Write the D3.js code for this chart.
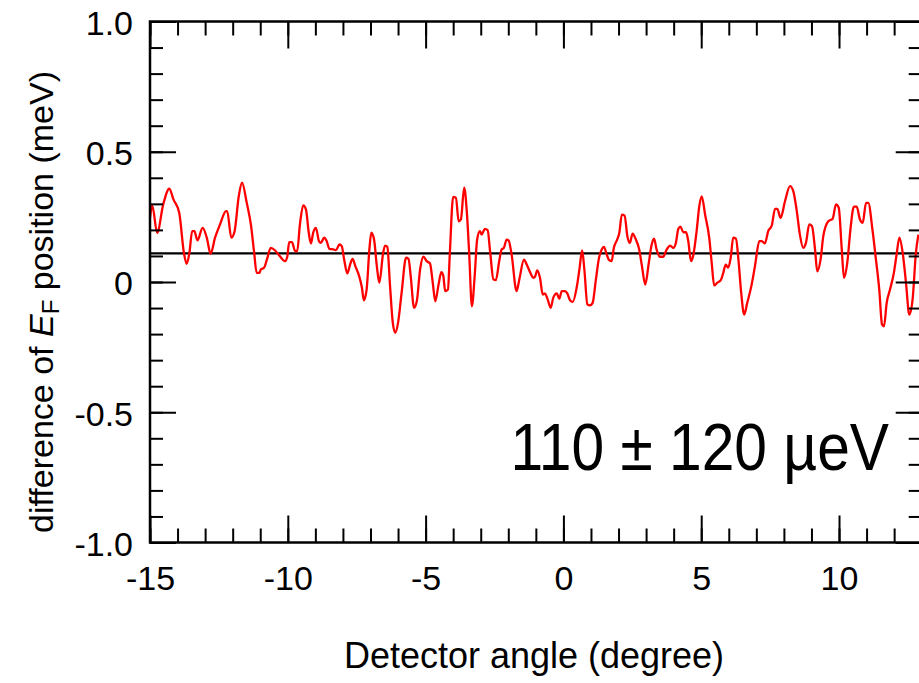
<!DOCTYPE html>
<html>
<head>
<meta charset="utf-8">
<script src="https://cdn.jsdelivr.net/npm/d3@7"></script>
<style>
  body { margin: 0; background: #fff; }
  svg { display: block; font-family: "Liberation Sans", Arial, sans-serif; }
  .axis path { display: none; }
  .axis line { stroke: #000; stroke-width: 2px; }
  .axis text { fill: #000; font-size: 34px; font-family: "Liberation Sans", Arial, sans-serif; }
</style>
</head>
<body>
<div id="chart"></div>
<script>
// detector angle (degree)
const angle = [
  -15.00,-14.92,-14.74,-14.52,-14.30,-14.15,-13.94,-13.77,-13.67,-13.57,
  -13.47,-13.39,-13.28,-13.09,-12.94,-12.80,-12.64,-12.46,-12.24,-12.20,
  -12.05,-11.93,-11.78,-11.66,-11.49,-11.34,-11.22,-11.13,-11.03,-10.98,
  -10.86,-10.74,-10.62,-10.46,-10.31,-10.10,-10.02,-9.95,-9.85,-9.73,
  -9.66,-9.56,-9.44,-9.34,-9.24,-9.16,-9.08,-8.98,-8.87,-8.80,
  -8.68,-8.59,-8.49,-8.35,-8.25,-8.13,-8.04,-7.96,-7.84,-7.74,
  -7.65,-7.55,-7.41,-7.31,-7.24,-7.14,-7.04,-6.97,-6.87,-6.77,
  -6.68,-6.54,-6.47,-6.39,-6.29,-6.19,-6.10,-6.00,-5.87,-5.71,
  -5.62,-5.54,-5.42,-5.32,-5.20,-5.08,-4.96,-4.84,-4.74,-4.65,
  -4.53,-4.43,-4.36,-4.29,-4.19,-4.12,-4.00,-3.90,-3.80,-3.72,
  -3.60,-3.51,-3.42,-3.32,-3.22,-3.13,-3.03,-2.97,-2.85,-2.75,
  -2.66,-2.54,-2.45,-2.33,-2.24,-2.16,-2.06,-1.99,-1.88,-1.70,
  -1.60,-1.43,-1.33,-1.19,-1.09,-1.03,-0.95,-0.85,-0.75,-0.67,
  -0.59,-0.46,-0.37,-0.24,-0.15,-0.06,0.06,0.14,0.24,0.34,
  0.48,0.58,0.68,0.76,0.87,0.96,1.06,1.18,1.28,1.39,
  1.47,1.57,1.66,1.75,1.83,1.95,2.03,2.12,2.22,2.32,
  2.41,2.51,2.63,2.75,2.85,2.97,3.09,3.19,3.29,3.38,
  3.50,3.62,3.75,3.87,3.99,4.08,4.17,4.25,4.35,4.45,
  4.53,4.63,4.71,4.84,4.93,5.02,5.14,5.29,5.38,5.47,
  5.58,5.71,5.80,5.89,5.98,6.07,6.16,6.26,6.36,6.45,
  6.56,6.67,6.83,6.95,7.11,7.19,7.31,7.43,7.56,7.68,
  7.76,7.88,8.04,8.22,8.34,8.46,8.58,8.70,8.80,8.92,
  9.02,9.13,9.21,9.33,9.43,9.61,9.77,9.89,9.99,10.10,
  10.18,10.30,10.42,10.54,10.64,10.76,10.86,10.98,11.06,11.22,
  11.34,11.46,11.56,11.63,11.73,11.85,11.99,12.09,12.19,12.31,
  12.43,12.55,12.67,12.79,12.88
];

// difference of E_F position (meV)
const diffEF = [
  0.246,0.294,0.189,0.298,0.358,0.317,0.266,0.112,0.070,0.112,
  0.195,0.195,0.160,0.208,0.170,0.108,0.170,0.221,0.272,0.272,
  0.170,0.195,0.329,0.381,0.304,0.221,0.112,0.035,0.035,0.048,
  0.055,0.093,0.131,0.121,0.102,0.080,0.097,0.153,0.153,0.118,
  0.118,0.221,0.294,0.278,0.189,0.148,0.189,0.208,0.157,0.150,
  0.170,0.157,0.127,0.125,0.122,0.144,0.137,0.089,0.033,0.067,
  0.089,0.061,0.022,-0.022,-0.070,-0.029,0.125,0.189,0.163,0.061,
  -0.003,0.112,0.140,0.135,-0.016,-0.157,-0.195,-0.157,-0.041,0.093,
  0.089,0.022,-0.099,-0.074,0.048,0.097,0.080,0.071,-0.003,-0.074,
  -0.010,0.038,0.025,-0.035,-0.029,0.112,0.327,0.323,0.233,0.240,
  0.362,0.278,0.112,-0.093,0.022,0.163,0.195,0.182,0.204,0.199,
  0.118,0.010,0.007,0.080,0.125,0.131,0.163,0.160,0.106,-0.035,
  0.010,0.086,0.067,0.033,0.016,0.020,0.045,0.016,-0.048,-0.044,
  -0.061,-0.099,-0.061,-0.044,-0.064,-0.035,-0.035,-0.044,-0.070,-0.076,
  -0.022,0.048,0.121,0.048,-0.086,-0.090,-0.080,0.010,0.086,0.125,
  0.135,0.106,0.084,0.080,0.131,0.163,0.189,0.259,0.255,0.176,
  0.150,0.186,0.163,0.125,0.061,-0.010,0.067,0.137,0.166,0.125,
  0.097,0.097,0.125,0.140,0.131,0.150,0.204,0.212,0.191,0.191,
  0.157,0.080,0.102,0.202,0.291,0.329,0.259,0.170,0.074,-0.013,
  -0.003,0.007,0.035,0.067,0.055,0.093,0.170,0.166,0.074,-0.041,
  -0.125,-0.080,-0.010,0.061,0.157,0.157,0.148,0.195,0.217,0.281,
  0.281,0.246,0.310,0.368,0.349,0.278,0.182,0.131,0.150,0.221,
  0.214,0.125,0.041,0.086,0.176,0.233,0.243,0.298,0.285,0.125,
  0.016,0.074,0.208,0.289,0.289,0.240,0.227,0.304,0.304,0.195,
  0.086,-0.029,-0.163,-0.170,-0.080,-0.029,0.035,0.106,0.170,0.112,
  -0.003,-0.125,-0.067,0.112,0.182
];

// mean offset (horizontal reference line), meV
const meanOffset = 0.11;

// axis ticks and labels
const xMajor = [-15, -10, -5, 0, 5, 10];
const xMajorLabels = ['-15', '-10', '-5', '0', '5', '10'];
const xMinor = d3.range(-15, 14, 1);
const yMajor = [-1, -0.5, 0, 0.5, 1];
const yMajorLabels = ['-1.0', '-0.5', '0', '0.5', '1.0'];
const yMinor = d3.range(-10, 11, 1).map(d => d / 10);
const xDomain = [-15, 13];
const yDomain = [-1, 1];

const xTitle = 'Detector angle (degree)';
const annotation = '110 \u00B1 120 \u00B5eV';

// layout
const width = 919, height = 683;
const margin = {t: 21.5, l: 150, r: -2.7, b: 140.5};
const w = width - margin.l - margin.r;
const h = height - margin.t - margin.b;

const svg = d3.select('#chart').append('svg')
    .attr('width', width)
    .attr('height', height);

const plot = svg.append('g')
    .attr('transform', `translate(${margin.l},${margin.t})`);

// scales
const scaleX = d3.scaleLinear().domain(xDomain).range([0, w]);
const scaleY = d3.scaleLinear().domain(yDomain).range([h, 0]);

const data = angle.map((a, i) => ({a: a, v: diffEF[i]}));

// reference line at mean offset
plot.append('line')
    .attr('x1', 0).attr('x2', w)
    .attr('y1', scaleY(meanOffset)).attr('y2', scaleY(meanOffset))
    .style('stroke', '#000')
    .style('stroke-width', 2.3);

// data line
const line = d3.line()
    .x(d => scaleX(d.a))
    .y(d => scaleY(d.v))
    .curve(d3.curveMonotoneX);

plot.append('path')
    .datum(data)
    .attr('d', line)
    .style('fill', 'none')
    .style('stroke', '#ff0000')
    .style('stroke-width', 2.3)
    .style('stroke-linejoin', 'round');

// axes: major + minor ticks, all pointing inward
const yLabel = d => yMajorLabels[yMajor.indexOf(d)];
const xLabel = d => xMajorLabels[xMajor.indexOf(d)];

plot.append('g').attr('class', 'axis')
    .call(d3.axisLeft(scaleY).tickValues(yMinor).tickSize(-13).tickFormat(''));
const yAxisG = plot.append('g').attr('class', 'axis')
    .call(d3.axisLeft(scaleY).tickValues(yMajor).tickSize(-26).tickPadding(17).tickFormat(yLabel));
yAxisG.selectAll('text').attr('dy', '0.38em');

plot.append('g').attr('class', 'axis')
    .attr('transform', `translate(${w},0)`)
    .call(d3.axisRight(scaleY).tickValues(yMinor).tickSize(-13).tickFormat(''));
plot.append('g').attr('class', 'axis')
    .attr('transform', `translate(${w},0)`)
    .call(d3.axisRight(scaleY).tickValues(yMajor).tickSize(-26).tickFormat(''));

plot.append('g').attr('class', 'axis')
    .attr('transform', `translate(0,${h})`)
    .call(d3.axisBottom(scaleX).tickValues(xMinor).tickSize(-14).tickFormat(''));
plot.append('g').attr('class', 'axis')
    .attr('transform', `translate(0,${h})`)
    .call(d3.axisBottom(scaleX).tickValues(xMajor).tickSize(-27).tickPadding(23).tickFormat(xLabel));

plot.append('g').attr('class', 'axis')
    .call(d3.axisTop(scaleX).tickValues(xMinor).tickSize(-14).tickFormat(''));
plot.append('g').attr('class', 'axis')
    .call(d3.axisTop(scaleX).tickValues(xMajor).tickSize(-27).tickFormat(''));

// frame
plot.append('rect')
    .attr('width', w).attr('height', h)
    .style('fill', 'none')
    .style('stroke', '#000')
    .style('stroke-width', 2.5);

// axis titles
svg.append('text')
    .attr('x', 534).attr('y', 668)
    .attr('text-anchor', 'middle')
    .style('font-size', '36px')
    .text(xTitle);

const yTitle = svg.append('text')
    .attr('transform', 'translate(53,302) rotate(-90)')
    .attr('text-anchor', 'middle')
    .style('font-size', '34px');
yTitle.append('tspan').text('difference of ');
yTitle.append('tspan').style('font-style', 'italic').text('E');
yTitle.append('tspan').attr('dy', '0.25em').style('font-size', '24px').text('F');
yTitle.append('tspan').attr('dy', '-0.18em').text(' position (meV)');

// annotation (tall, slightly condensed lettering as in the original)
svg.append('text')
    .attr('transform', 'translate(889,470) scale(0.89,1)')
    .attr('text-anchor', 'end')
    .style('font-size', '66px')
    .text(annotation);
</script>
</body>
</html>
